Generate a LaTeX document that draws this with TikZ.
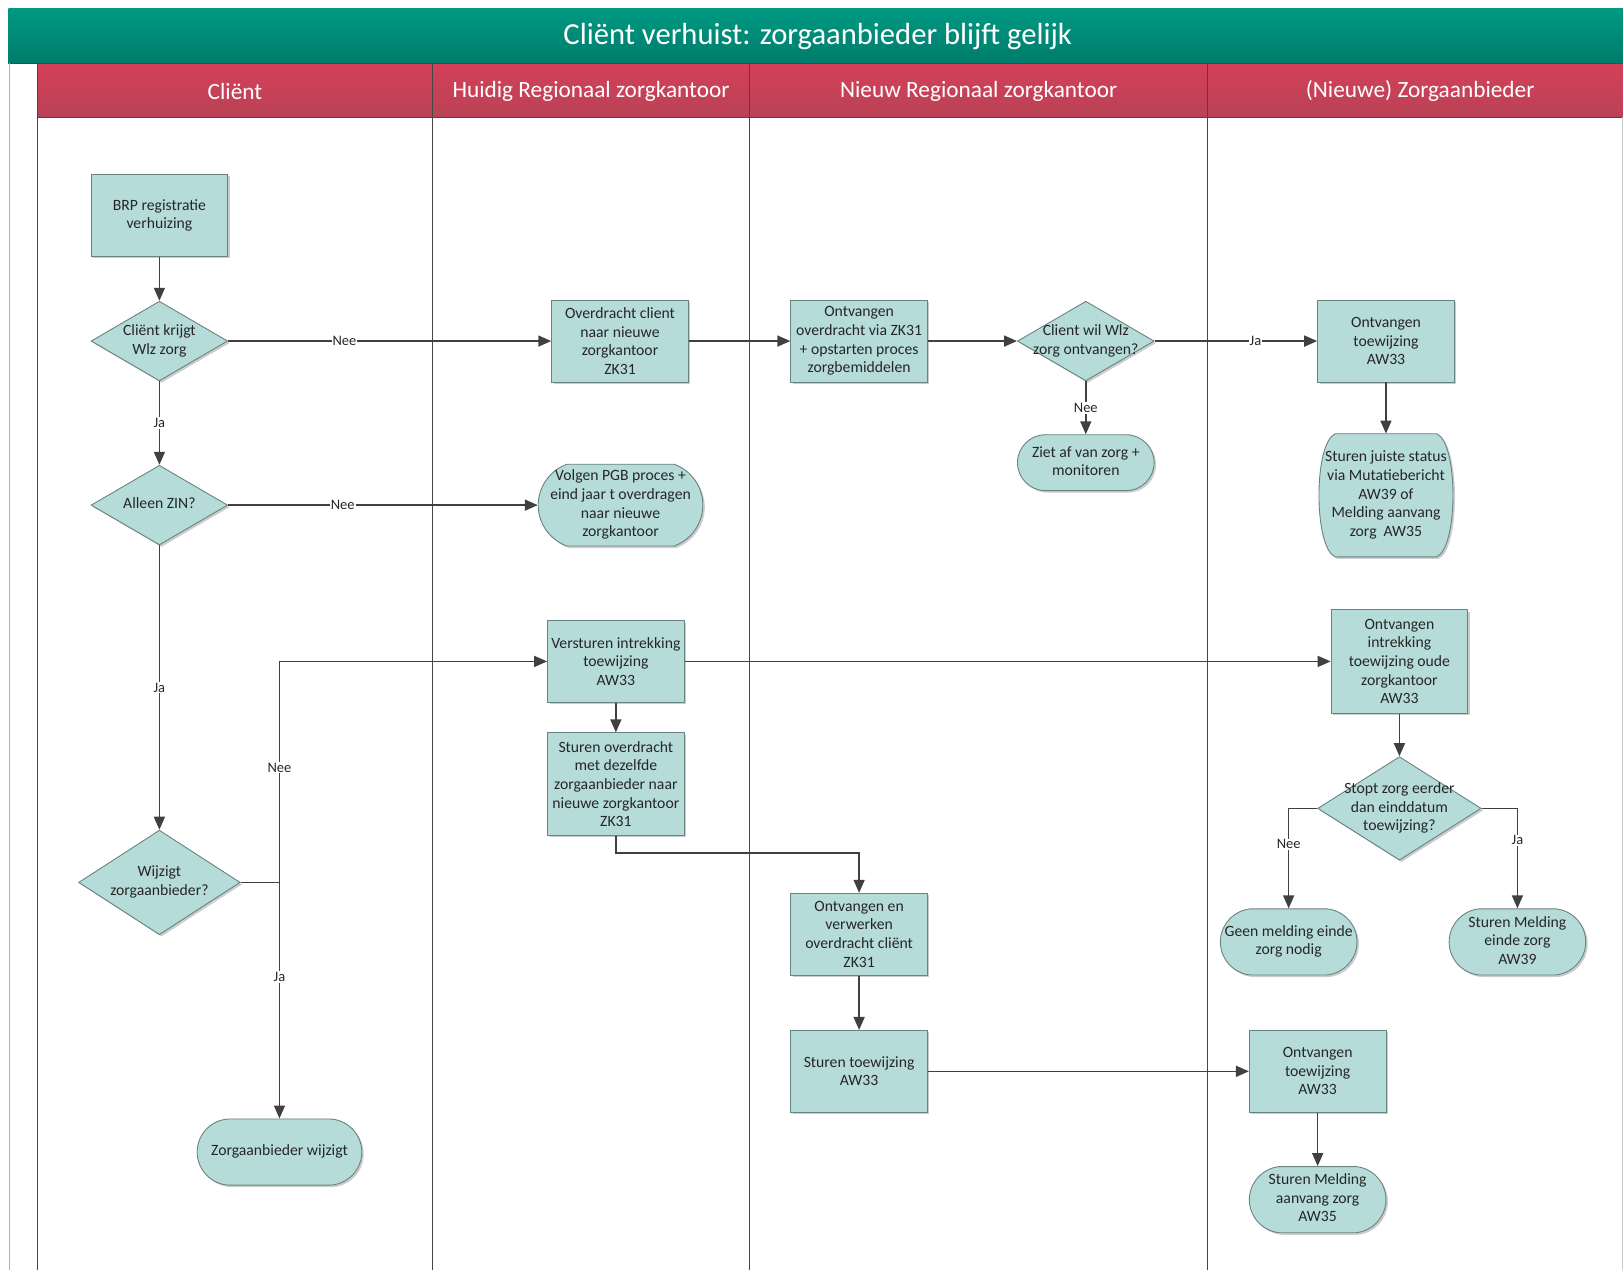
\documentclass[tikz,border=0pt]{standalone}
\usepackage{fontspec}
\setmainfont{Carlito}
\usetikzlibrary{arrows.meta,shapes.geometric,shapes.misc,shadows}
\definecolor{nodefill}{RGB}{182,220,218}
\definecolor{nodeline}{RGB}{105,130,130}
\definecolor{edgec}{RGB}{64,64,64}
\definecolor{tealA}{RGB}{0,153,130}
\definecolor{tealB}{RGB}{0,124,108}
\definecolor{redA}{RGB}{212,64,88}
\definecolor{redB}{RGB}{186,66,86}
\definecolor{lanec}{RGB}{70,70,70}
\newcommand\dtext[1]{\makebox[0pt]{\begin{tabular}{@{}c@{}}#1\end{tabular}}}
\begin{document}
\begin{tikzpicture}[x=1.0351pt, y=-1.0351pt,
  nfont/.style={font=\fontsize{15.7}{18.6}\selectfont},
  look/.style={draw=nodeline, line width=0.9pt, fill=nodefill,
    drop shadow={shadow xshift=2pt, shadow yshift=-2pt, fill=black, opacity=0.2}},
  base/.style={look, text=black!85, nfont, align=center, inner sep=1pt},
  proc/.style={base, rectangle, minimum width=136.6pt, minimum height=#1},
  proc/.default=81.8pt,
  dia/.style 2 args={base, diamond, minimum width=#1, minimum height=#2, inner sep=0pt},
  term/.style n args={3}{base, rounded rectangle, rounded rectangle arc length=#3, minimum width=#1, minimum height=#2, inner sep=0pt},
  arr/.style={draw=edgec, line width=1.6pt, -{Triangle[length=13pt,width=11pt]}},
  plain/.style={draw=edgec, line width=1.6pt},
  lbl/.style={fill=white, inner sep=1pt, text=black!85, font=\fontsize{14.5}{16}\selectfont},
  lane/.style={draw=lanec, line width=0.9pt},
  hdr/.style={text=white, font=\fontsize{23.3}{26}\selectfont}
]
\useasboundingbox (0,0) rectangle (1568,1227);
% title and header bands
\shade[top color=tealA, bottom color=tealB] (8,8) rectangle (1568,61);
\shade[top color=redA, bottom color=redB] (36,61) rectangle (1568,113);
\node[text=white, font=\fontsize{30.6}{34}\selectfont] (title) at (790,35) {Cliënt verhuist: zorgaanbieder blijft gelijk};
\node[hdr] (h1) at (227,88) {Cliënt};
\node[hdr] (h2) at (571,88) {Huidig Regionaal zorgkantoor};
\node[hdr] (h3) at (945.5,88) {Nieuw Regionaal zorgkantoor};
\node[hdr] (h4) at (1372,88) {(Nieuwe) Zorgaanbieder};
% lane lines
\draw[lane] (8,61) -- (1568,61);
\draw[lane] (36,113) -- (1568,113);
\draw[lane] (36,61) -- (36,1227);
\draw[lane] (418,61) -- (418,1227);
\draw[lane] (724,61) -- (724,1227);
\draw[lane] (1167,61) -- (1167,1227);
\draw[black!30, line width=0.8pt] (9.5,61) -- (9.5,1227);
\draw[black!20, line width=0.8pt] (1567,113) -- (1567,1227);

% Client lane
\node[proc] (brp) at (154,208) {BRP registratie\\verhuizing};
\node[dia={136.6pt}{79.7pt}] (d1) at (154,329.5) {\dtext{Cliënt krijgt\\Wlz zorg}};
\node[dia={136.6pt}{79.7pt}] (d2) at (154,488) {\dtext{Alleen ZIN?}};
\node[dia={161.5pt}{104.5pt}] (d3) at (154,852.5) {\dtext{Wijzigt\\zorgaanbieder?}};
\node[term={164.6pt}{66.2pt}{180}] (zw) at (270,1113) {\dtext{Zorgaanbieder wijzigt}};
\coordinate (j3) at (270,852.5);

% Huidig regionaal zorgkantoor
\node[proc] (ovd) at (599,329.5) {Overdracht client\\naar nieuwe\\zorgkantoor\\ZK31};
\node[term={164.6pt}{81.8pt}{140}] (pgb) at (599.5,488) {\dtext{Volgen PGB proces +\\eind jaar t overdragen\\naar nieuwe\\zorgkantoor}};
\node[proc] (vers) at (595,639) {Versturen intrekking\\toewijzing\\AW33};
\node[proc=102.5pt] (sov) at (595,757.5) {Sturen overdracht\\met dezelfde\\zorgaanbieder naar\\nieuwe zorgkantoor\\ZK31};
\coordinate (k1) at (595,824);

% Nieuw regionaal zorgkantoor
\node[proc] (ovz) at (830,329.5) {Ontvangen\\overdracht via ZK31\\+ opstarten proces\\zorgbemiddelen};
\node[dia={136.6pt}{79.7pt}] (d4) at (1049,329.5) {\dtext{Client wil Wlz\\zorg ontvangen?}};
\node[term={136.6pt}{55.9pt}{180}] (ziet) at (1049,447) {\dtext{Ziet af van zorg +\\monitoren}};
\node[proc] (oev) at (830,902.5) {Ontvangen en\\verwerken\\overdracht cliënt\\ZK31};
\node[proc] (stw) at (830,1035) {Sturen toewijzing\\AW33};

% Zorgaanbieder
\node[proc] (otw1) at (1339,329.5) {Ontvangen\\toewijzing\\AW33};
% tall terminator with bulging sides
\path[look] (1290,419) -- (1388,419)
  .. controls (1409,428) and (1409,529) .. (1388,538)
  -- (1290,538)
  .. controls (1269,529) and (1269,428) .. (1290,419) -- cycle;
\node[rectangle, minimum width=134.6pt, minimum height=123pt, inner sep=0pt, text=black!85, nfont] (sjs) at (1339,478.5) {\dtext{Sturen juiste status\\via Mutatiebericht\\AW39 of\\Melding aanvang\\zorg~~AW35}};
\node[proc=103.5pt] (oi) at (1352,639) {Ontvangen\\intrekking\\toewijzing oude\\zorgkantoor\\AW33};
\node[dia={163.5pt}{103.5pt}] (d5) at (1352,781) {\dtext{Stopt zorg eerder\\dan einddatum\\toewijzing?}};
\node[term={136.6pt}{66.2pt}{170}] (geen) at (1245,910) {\dtext{Geen melding einde\\zorg nodig}};
\node[term={136.6pt}{66.2pt}{170}] (einde) at (1466,910) {\dtext{Sturen Melding\\einde zorg\\AW39}};
\node[proc] (otw2) at (1273,1035) {Ontvangen\\toewijzing\\AW33};
\node[term={136.6pt}{66.2pt}{170}] (sma) at (1273,1159) {\dtext{Sturen Melding\\aanvang zorg\\AW35}};

% connectors
\draw[arr] (brp) -- (d1);
\draw[arr] (d1) -- node[lbl,pos=0.36]{Nee} (ovd);
\draw[arr] (d1) -- node[lbl]{Ja} (d2);
\draw[arr] (d2) -- node[lbl,pos=0.37]{Nee} (pgb);
\draw[arr] (d2) -- node[lbl]{Ja} (d3);
\draw[plain] (d3.east) -- (j3);
\draw[arr] (j3) |- node[lbl,pos=0.26]{Nee} (vers.west);
\draw[arr] (j3) -- node[lbl,pos=0.40]{Ja} (zw.north);
\draw[arr] (ovd) -- (ovz);
\draw[arr] (ovz) -- (d4);
\draw[arr] (d4) -- node[lbl,pos=0.62]{Ja} (otw1);
\draw[arr] (d4) -- node[lbl]{Nee} (ziet);
\draw[arr] (otw1) -- (sjs);
\draw[arr] (vers) -- (oi);
\draw[arr] (vers) -- (sov);
\draw[arr] (sov.south) -- (k1) -| (oev.north);
\draw[arr] (oev) -- (stw);
\draw[arr] (stw) -- (otw2);
\draw[arr] (otw2) -- (sma);
\draw[arr] (oi) -- (d5);
\draw[arr] (d5.west) -| node[lbl,pos=0.68]{Nee} (geen.north);
\draw[arr] (d5.east) -| node[lbl,pos=0.66]{Ja} (einde.north);
\end{tikzpicture}
\end{document}
